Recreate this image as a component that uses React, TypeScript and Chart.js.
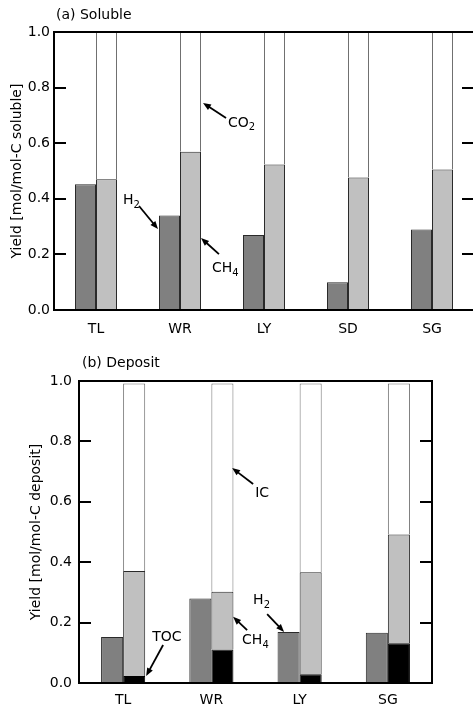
import React, { useEffect, useRef } from 'react';
import { Chart, registerables } from 'chart.js';

Chart.register(...registerables);

const FONT = '"DejaVu Sans", "Liberation Sans", sans-serif';

// ---- shared y axis ----
const yTickValues = [0, 0.2, 0.4, 0.6, 0.8, 1.0];
const yTickLabels = ['0.0', '0.2', '0.4', '0.6', '0.8', '1.0'];

// ---- (a) Soluble ----
const solubleCategories = ['TL', 'WR', 'LY', 'SD', 'SG'];
const solubleH2 = [0.452, 0.34, 0.27, 0.1, 0.29];
const solubleCH4 = [0.47, 0.569, 0.523, 0.477, 0.505];
const solubleCO2 = [0.53, 0.431, 0.477, 0.523, 0.495];

// ---- (b) Deposit ----
const depositCategories = ['TL', 'WR', 'LY', 'SG'];
const depositH2 = [0.152, 0.28, 0.169, 0.166];
const depositTOC = [0.023, 0.111, 0.029, 0.132];
const depositCH4 = [0.348, 0.191, 0.338, 0.36];
const depositIC = [0.621, 0.69, 0.625, 0.5];

// annotations: [main text, subscript, label x (category index), label y (value), arrow tail x, tail y, tip x, tip y]
const solubleNotes: [string, string, number, number, number, number, number, number][] = [
  ['CO', '2', 1.571, 0.673, 1.548, 0.691, 1.274, 0.745],
  ['H', '2', 0.321, 0.396, 0.512, 0.374, 0.738, 0.291],
  ['CH', '4', 1.381, 0.151, 1.464, 0.201, 1.25, 0.259],
];
const depositNotes: [string, string, number, number, number, number, number, number][] = [
  ['IC', '', 1.496, 0.629, 1.473, 0.659, 1.235, 0.712],
  ['TOC', '', 0.329, 0.152, 0.453, 0.126, 0.261, 0.023],
  ['CH', '4', 1.348, 0.142, 1.405, 0.175, 1.246, 0.219],
  ['H', '2', 1.473, 0.272, 1.632, 0.228, 1.824, 0.169],
];

const DARK = '#808080';
const LIGHT = '#c0c0c0';
const EDGE = '#2a2a2a';
const WHITE_EDGE = '#707070';

const framePlugin = {
  id: 'frame',
  afterDraw(chart: any, _args: any, opts: any) {
    const { ctx, chartArea: a, scales } = chart;
    const y = scales.y;
    const x = scales.x;
    ctx.save();
    ctx.strokeStyle = '#000';
    ctx.lineWidth = 2;
    ctx.strokeRect(a.left, a.top, a.right - a.left, a.bottom - a.top);
    ctx.beginPath();
    y.ticks.forEach((t: any) => {
      const py = Math.round(y.getPixelForValue(t.value));
      ctx.moveTo(a.left, py);
      ctx.lineTo(a.left + 12, py);
      ctx.moveTo(a.right, py);
      ctx.lineTo(a.right - 12, py);
    });
    ctx.stroke();

    // panel title
    ctx.fillStyle = '#000';
    ctx.font = `14px ${FONT}`;
    ctx.textAlign = 'left';
    ctx.textBaseline = 'middle';
    ctx.fillText(opts.title, a.left + opts.titleDx, a.top - opts.titleDy);

    // annotations
    (opts.notes || []).forEach((n: any) => {
      const [main, sub, lx, ly, fx, fy, tx, ty] = n;
      const px = x.getPixelForValue(lx);
      const py = y.getPixelForValue(ly);
      ctx.font = `14px ${FONT}`;
      ctx.textAlign = 'left';
      ctx.textBaseline = 'middle';
      ctx.fillText(main, px, py);
      if (sub) {
        const w = ctx.measureText(main).width;
        ctx.font = `10px ${FONT}`;
        ctx.fillText(sub, px + w, py + 5);
      }
      const x1 = x.getPixelForValue(fx);
      const y1 = y.getPixelForValue(fy);
      const x2 = x.getPixelForValue(tx);
      const y2 = y.getPixelForValue(ty);
      const ang = Math.atan2(y2 - y1, x2 - x1);
      const head = 8;
      ctx.lineWidth = 1.8;
      ctx.beginPath();
      ctx.moveTo(x1, y1);
      ctx.lineTo(x2 - Math.cos(ang) * head * 0.7, y2 - Math.sin(ang) * head * 0.7);
      ctx.stroke();
      ctx.beginPath();
      ctx.moveTo(x2, y2);
      ctx.lineTo(x2 - Math.cos(ang) * head + Math.sin(ang) * 3.2, y2 - Math.sin(ang) * head - Math.cos(ang) * 3.2);
      ctx.lineTo(x2 - Math.cos(ang) * head - Math.sin(ang) * 3.2, y2 - Math.sin(ang) * head + Math.cos(ang) * 3.2);
      ctx.closePath();
      ctx.fill();
    });
    ctx.restore();
  },
};

function makeOptions(cfg: {
  yTitle: string;
  yWidth: number;
  xHeight: number;
  xLabelPad: number;
  padding: any;
  yTitlePad: number;
  yLabelPad: number;
  title: string;
  titleDx: number;
  titleDy: number;
  notes: any[];
}) {
  return {
    responsive: false,
    animation: false as const,
    layout: { padding: cfg.padding },
    plugins: {
      legend: { display: false },
      tooltip: { enabled: false },
      frame: { title: cfg.title, titleDx: cfg.titleDx, titleDy: cfg.titleDy, notes: cfg.notes },
    },
    scales: {
      x: {
        stacked: true,
        grid: { display: false, drawTicks: false },
        border: { display: false },
        ticks: { color: '#000', font: { family: FONT, size: 14 }, padding: cfg.xLabelPad, maxRotation: 0 },
        afterFit: (s: any) => {
          s.height = cfg.xHeight;
        },
      },
      y: {
        stacked: true,
        min: 0,
        max: 1,
        grid: { display: false, drawTicks: false },
        border: { display: false },
        afterBuildTicks: (s: any) => {
          s.ticks = yTickValues.map((v) => ({ value: v }));
        },
        ticks: {
          color: '#000',
          font: { family: FONT, size: 14 },
          padding: cfg.yLabelPad,
          callback: (_v: any, i: number) => yTickLabels[i],
        },
        title: {
          display: true,
          text: cfg.yTitle,
          color: '#000',
          font: { family: FONT, size: 14 },
          padding: { top: cfg.yTitlePad, bottom: 0 },
        },
        afterFit: (s: any) => {
          s.width = cfg.yWidth;
        },
      },
    },
  };
}

function SolubleChart() {
  const ref = useRef<HTMLCanvasElement>(null);
  useEffect(() => {
    const chart = new Chart(ref.current as HTMLCanvasElement, {
      type: 'bar',
      data: {
        labels: solubleCategories,
        datasets: [
          { label: 'H2', data: solubleH2, stack: 'a', backgroundColor: DARK, borderColor: EDGE, borderWidth: 1, categoryPercentage: 0.5, barPercentage: 1 },
          { label: 'CH4', data: solubleCH4, stack: 'b', backgroundColor: LIGHT, borderColor: EDGE, borderWidth: 1, categoryPercentage: 0.5, barPercentage: 1 },
          { label: 'CO2', data: solubleCO2, stack: 'b', backgroundColor: '#ffffff', borderColor: WHITE_EDGE, borderWidth: 1, categoryPercentage: 0.5, barPercentage: 1 },
        ],
      },
      options: makeOptions({
        yTitle: 'Yield [mol/mol-C soluble]',
        yWidth: 54,
        xHeight: 25,
        xLabelPad: 11,
        padding: { top: 32, right: 6, bottom: 0, left: 0 },
        yTitlePad: 9,
        yLabelPad: 4,
        title: '(a) Soluble',
        titleDx: 2,
        titleDy: 17,
        notes: solubleNotes,
      }) as any,
      plugins: [framePlugin],
    });
    return () => chart.destroy();
  }, []);
  return <canvas ref={ref} width={480} height={335} style={{ position: 'absolute', left: 0, top: 0, width: 480, height: 335 }} />;
}

function DepositChart() {
  const ref = useRef<HTMLCanvasElement>(null);
  useEffect(() => {
    const chart = new Chart(ref.current as HTMLCanvasElement, {
      type: 'bar',
      data: {
        labels: depositCategories,
        datasets: [
          { label: 'H2', data: depositH2, stack: 'a', backgroundColor: DARK, borderColor: EDGE, borderWidth: 1, categoryPercentage: 0.5, barPercentage: 1 },
          { label: 'TOC', data: depositTOC, stack: 'b', backgroundColor: '#000000', borderColor: '#000000', borderWidth: 1, categoryPercentage: 0.5, barPercentage: 1 },
          { label: 'CH4', data: depositCH4, stack: 'b', backgroundColor: LIGHT, borderColor: EDGE, borderWidth: 1, categoryPercentage: 0.5, barPercentage: 1 },
          { label: 'IC', data: depositIC, stack: 'b', backgroundColor: '#ffffff', borderColor: WHITE_EDGE, borderWidth: 1, categoryPercentage: 0.5, barPercentage: 1 },
        ],
      },
      options: makeOptions({
        yTitle: 'Yield [mol/mol-C deposit]',
        yWidth: 79,
        xHeight: 22,
        xLabelPad: 9,
        padding: { top: 46, right: 41, bottom: 0, left: 0 },
        yTitlePad: 28,
        yLabelPad: 7,
        title: '(b) Deposit',
        titleDx: 3,
        titleDy: 18,
        notes: depositNotes,
      }) as any,
      plugins: [framePlugin],
    });
    return () => chart.destroy();
  }, []);
  return <canvas ref={ref} width={473} height={370} style={{ position: 'absolute', left: 0, top: 335, width: 473, height: 370 }} />;
}

export default function App() {
  return (
    <div style={{ position: 'fixed', left: 0, top: 0, width: 473, height: 705, overflow: 'hidden', background: '#fff' }}>
      <SolubleChart />
      <DepositChart />
    </div>
  );
}
